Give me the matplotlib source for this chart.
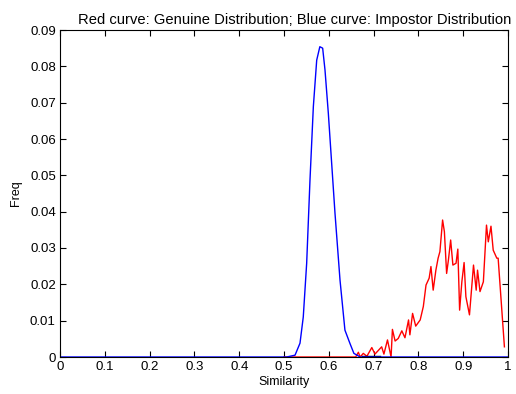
import matplotlib
matplotlib.use("Agg")
import matplotlib.pyplot as plt

plt.rcParams['font.family'] = ['Liberation Sans', 'DejaVu Sans']

# Impostor distribution (blue)
blue_x = [0.0, 0.5, 0.506, 0.5246, 0.5357, 0.543, 0.5506, 0.558, 0.5655, 0.573, 0.580,
          0.5863, 0.5915, 0.599, 0.6064, 0.6138, 0.625, 0.636, 0.647, 0.656, 0.67, 1.0]
blue_y = [0.0, 0.0, 0.0, 0.0005, 0.0038, 0.011, 0.0258, 0.0487, 0.0689, 0.0817, 0.0854,
          0.085, 0.079, 0.067, 0.0533, 0.0396, 0.0212, 0.0074, 0.0038, 0.001, 0.0, 0.0]

# Genuine distribution (red)
red_x = [0.5, 0.66, 0.666, 0.670, 0.677, 0.685, 0.696, 0.703, 0.718, 0.723, 0.731, 0.739,
         0.742, 0.748, 0.755, 0.763, 0.770, 0.778, 0.781, 0.787, 0.794, 0.804, 0.811,
         0.817, 0.824, 0.828, 0.833, 0.839, 0.844, 0.848, 0.854, 0.858, 0.863, 0.867,
         0.872, 0.877, 0.884, 0.888, 0.892, 0.897, 0.902, 0.906, 0.914, 0.923, 0.929,
         0.932, 0.9375, 0.945, 0.952, 0.956, 0.962, 0.967, 0.975, 0.978, 0.992]
red_y = [0.0, 0.0, 0.0013, 0.0, 0.001, 0.0002, 0.0026, 0.0008, 0.0028, 0.0008, 0.0047, 0.0,
         0.0076, 0.0044, 0.0051, 0.0072, 0.0053, 0.0102, 0.0061, 0.012, 0.0085, 0.0102, 0.0139,
         0.0198, 0.0217, 0.0249, 0.0184, 0.0239, 0.0272, 0.029, 0.0377, 0.0345, 0.023, 0.0267,
         0.0322, 0.0253, 0.0258, 0.0297, 0.0129, 0.0207, 0.026, 0.0166, 0.0116, 0.0253, 0.0184,
         0.0239, 0.018, 0.0207, 0.0363, 0.0317, 0.036, 0.0294, 0.0272, 0.0272, 0.0028]

# small black segment near the crossing
black_x = [0.675, 0.715]
black_y = [0.0003, 0.0003]

xticks = [0, 0.1, 0.2, 0.3, 0.4, 0.5, 0.6, 0.7, 0.8, 0.9, 1]
xticklabels = ['0', '0.1', '0.2', '0.3', '0.4', '0.5', '0.6', '0.7', '0.8', '0.9', '1']
yticks = [0, 0.01, 0.02, 0.03, 0.04, 0.05, 0.06, 0.07, 0.08, 0.09]
yticklabels = ['0', '0.01', '0.02', '0.03', '0.04', '0.05', '0.06', '0.07', '0.08', '0.09']

fig = plt.figure(figsize=(5.16, 3.94), dpi=100)
ax = fig.add_axes([60/516, 1-357/394, 448/516, 327/394])

ax.plot(red_x, red_y, color='red', lw=1.0)
ax.plot(black_x, black_y, color='black', lw=1.0)
ax.plot(blue_x, blue_y, color='blue', lw=1.0)

ax.set_xlim(0, 1)
ax.set_ylim(0, 0.09)
ax.set_xticks(xticks)
ax.set_xticklabels(xticklabels)
ax.set_yticks(yticks)
ax.set_yticklabels(yticklabels)
ax.tick_params(direction='in', top=True, right=True, length=4, width=0.8, labelsize=9.5, pad=3)
for s in ax.spines.values():
    s.set_linewidth(0.8)

ax.set_xlabel('Similarity', fontsize=9, labelpad=2)
ax.set_ylabel('Freq', fontsize=9, labelpad=6)
ax.set_title('Red curve: Genuine Distribution; Blue curve: Impostor Distribution',
             fontsize=10.6, pad=4, x=0.523)

fig.savefig('out.png', dpi=100)
